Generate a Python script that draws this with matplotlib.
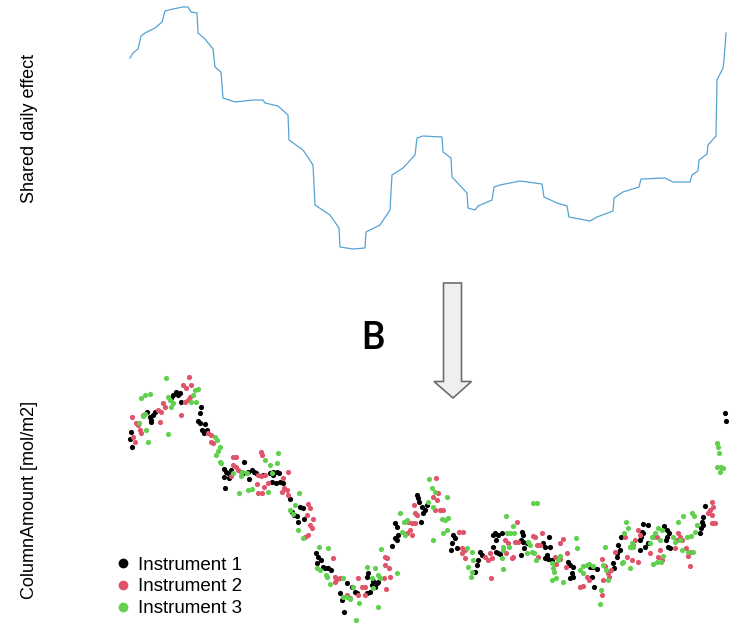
import matplotlib
matplotlib.use("Agg")
import matplotlib.pyplot as plt
from matplotlib.patches import Polygon
from matplotlib.lines import Line2D

# ---- shared daily effect (smooth term) ----
effect_day = [2, 5, 10, 13, 17, 27, 34, 37, 45, 55, 60, 63, 69, 70, 77, 85, 87, 93, 95,
              107, 125, 135, 137, 150, 160, 161, 175, 185, 187, 202, 211, 212, 225, 237,
              238, 252, 262, 264, 275, 287, 289, 295, 314, 315, 323, 324, 339, 340, 347,
              350, 364, 366, 372, 392, 414, 416, 429, 439, 441, 462, 469, 485, 486, 495,
              511, 513, 537, 545, 562, 564, 570, 571, 579, 580, 588, 589, 595, 596, 598]
effect_val = [0.70, 0.75, 0.79, 0.92, 0.95, 1.00, 1.06, 1.17, 1.19, 1.21, 1.21, 1.16, 1.15,
              0.95, 0.89, 0.79, 0.61, 0.56, 0.30, 0.26, 0.28, 0.28, 0.25, 0.22, 0.13, -0.12,
              -0.22, -0.37, -0.77, -0.87, -1.00, -1.19, -1.21, -1.20, -1.04, -0.97, -0.82,
              -0.47, -0.40, -0.27, -0.10, -0.08, -0.09, -0.24, -0.30, -0.49, -0.65, -0.80,
              -0.82, -0.78, -0.72, -0.59, -0.57, -0.53, -0.56, -0.69, -0.75, -0.78, -0.89,
              -0.93, -0.89, -0.83, -0.70, -0.64, -0.59, -0.51, -0.50, -0.54, -0.54, -0.47,
              -0.43, -0.32, -0.26, -0.17, -0.08, 0.48, 0.60, 0.68, 0.95]

# ---- ColumnAmount observations (Dobson units) per instrument ----
inst1_day = [3, 2, 4, 19, 22, 23, 25, 27, 23, 43, 45, 48, 50, 52, 53, 73, 72, 70, 72, 77, 74,
             79, 76, 96, 98, 100, 96, 101, 97, 103, 116, 115, 120, 124, 126, 128, 121, 135,
             142, 145, 149, 151, 144, 148, 152, 145, 155, 162, 164, 166, 169, 172, 175, 170,
             176, 188, 190, 193, 189, 195, 197, 200, 203, 219, 224, 212, 214, 227, 229, 216,
             240, 239, 244, 245, 249, 250, 247, 242, 239, 264, 267, 269, 270, 267, 269, 289,
             290, 291, 294, 295, 297, 299, 293, 325, 327, 324, 323, 329, 352, 354, 350, 349,
             347, 365, 365, 367, 370, 374, 368, 368, 370, 372, 394, 395, 393, 395, 399, 396,
             393, 415, 417, 421, 422, 419, 417, 420, 424, 440, 442, 445, 444, 445, 442, 462,
             465, 469, 464, 466, 485, 486, 489, 490, 597, 598, 577, 575, 574, 575, 573, 572,
             536, 539, 541, 539, 538, 540, 542, 515, 520, 514, 515, 513, 512, 520, 517, 512,
             493, 492, 489]
inst1_du = [288, 281, 273, 308, 303, 300, 305, 308, 298, 322, 325, 328, 325, 327, 318, 313,
            307, 299, 297, 296, 290, 290, 287, 251, 248, 247, 243, 242, 232, 250, 258, 247,
            248, 250, 248, 247, 241, 245, 247, 248, 248, 247, 238, 237, 238, 245, 237, 221,
            208, 205, 204, 213, 212, 198, 201, 167, 163, 160, 157, 153, 152, 152, 150, 137,
            133, 127, 120, 128, 127, 108, 147, 143, 135, 139, 137, 138, 133, 128, 127, 174,
            182, 180, 185, 197, 193, 225, 222, 218, 213, 207, 210, 215, 198, 185, 182, 177,
            170, 172, 168, 165, 160, 155, 148, 185, 173, 187, 185, 187, 180, 168, 167, 166,
            188, 185, 180, 178, 177, 172, 165, 177, 173, 183, 173, 165, 162, 161, 160, 158,
            155, 153, 147, 143, 142, 153, 153, 151, 143, 133, 157, 152, 163, 175, 307, 299,
            214, 203, 198, 195, 192, 187, 194, 190, 187, 183, 180, 173, 172, 196, 195, 188,
            187, 183, 180, 177, 173, 170, 183, 170, 167]

inst2_day = [4, 8, 10, 5, 7, 12, 13, 15, 30, 33, 32, 35, 37, 53, 55, 61, 58, 57, 60, 63, 62,
             80, 83, 83, 85, 105, 108, 105, 108, 110, 103, 113, 133, 134, 130, 133, 137, 129,
             130, 134, 136, 140, 155, 160, 154, 156, 159, 160, 180, 182, 179, 185, 182, 184,
             180, 177, 205, 207, 209, 212, 207, 219, 222, 230, 234, 237, 230, 237, 257, 259,
             257, 261, 262, 256, 258, 280, 284, 282, 279, 284, 287, 286, 287, 289, 308, 310,
             305, 309, 307, 312, 315, 331, 335, 334, 337, 334, 337, 357, 360, 363, 362, 364,
             377, 380, 378, 384, 385, 387, 389, 390, 405, 407, 409, 412, 414, 410, 432, 435,
             439, 427, 432, 428, 438, 452, 455, 459, 461, 474, 477, 480, 483, 474, 475, 481,
             487, 584, 585, 582, 580, 584, 587, 584, 550, 552, 549, 554, 558, 562, 560, 562,
             547, 532, 530, 534, 522, 525, 529, 510, 512, 507, 505, 502, 497, 499, 504, 510]
inst2_du = [303, 297, 295, 283, 278, 290, 287, 305, 310, 308, 298, 317, 313, 305, 335, 343,
            332, 318, 320, 335, 323, 287, 285, 278, 277, 263, 263, 255, 253, 250, 244, 248,
            268, 265, 245, 244, 245, 236, 227, 227, 233, 237, 242, 248, 228, 232, 230, 225,
            216, 212, 205, 201, 195, 192, 185, 183, 162, 143, 141, 142, 138, 125, 122, 142,
            133, 133, 125, 125, 163, 162, 155, 152, 143, 142, 131, 198, 197, 190, 187, 185,
            197, 215, 207, 205, 242, 227, 223, 220, 210, 210, 210, 188, 188, 172, 170, 167,
            162, 163, 160, 142, 167, 162, 180, 177, 167, 162, 163, 178, 198, 178, 184, 183,
            175, 175, 187, 163, 177, 181, 167, 163, 161, 156, 153, 133, 134, 143, 140, 161,
            154, 147, 150, 125, 140, 143, 168, 218, 213, 210, 207, 205, 197, 197, 187, 183,
            180, 180, 172, 168, 164, 154, 172, 170, 163, 160, 167, 183, 183, 190, 185, 180,
            175, 173, 183, 163, 160, 158]

inst3_day = [38, 13, 17, 22, 15, 17, 11, 18, 20, 40, 40, 42, 45, 43, 67, 70, 65, 63, 68, 87,
             89, 92, 90, 88, 92, 93, 105, 113, 111, 137, 142, 149, 150, 114, 119, 120, 124,
             140, 144, 171, 167, 162, 165, 170, 175, 191, 200, 189, 192, 198, 199, 202, 219,
             215, 222, 225, 231, 228, 215, 239, 244, 250, 252, 245, 250, 247, 253, 269, 272,
             276, 279, 274, 277, 301, 304, 307, 300, 305, 319, 314, 317, 320, 319, 315, 305,
             339, 344, 345, 340, 344, 343, 405, 409, 378, 385, 379, 382, 386, 375, 375, 381,
             374, 375, 400, 402, 399, 404, 406, 408, 424, 425, 426, 424, 428, 430, 432, 435,
             448, 449, 452, 455, 459, 461, 465, 455, 475, 478, 477, 480, 473, 472, 589, 590,
             591, 589, 593, 595, 592, 564, 566, 555, 569, 567, 550, 563, 559, 552, 554, 560,
             565, 545, 547, 534, 530, 527, 524, 522, 532, 535, 533, 529, 525, 500, 498, 496,
             504, 505, 502, 495, 494, 502]
inst3_du = [342, 322, 325, 326, 304, 306, 297, 290, 278, 286, 323, 320, 317, 313, 330, 331,
            325, 318, 318, 283, 280, 273, 269, 265, 258, 257, 247, 244, 227, 260, 255, 257,
            267, 248, 247, 230, 231, 228, 247, 227, 215, 210, 206, 190, 182, 173, 172, 152,
            150, 145, 143, 136, 123, 123, 121, 133, 117, 100, 142, 153, 142, 145, 142, 132,
            113, 152, 171, 147, 207, 198, 200, 188, 185, 241, 232, 228, 218, 213, 223, 201,
            200, 202, 190, 187, 180, 172, 168, 160, 153, 148, 143, 217, 217, 204, 194, 187,
            187, 187, 173, 170, 173, 162, 151, 178, 175, 167, 168, 167, 160, 157, 152, 148,
            140, 142, 160, 164, 138, 182, 172, 150, 154, 155, 156, 154, 147, 155, 150, 173,
            140, 130, 116, 277, 273, 267, 253, 253, 252, 248, 207, 204, 204, 195, 188, 198,
            184, 183, 180, 170, 168, 168, 183, 178, 190, 192, 187, 183, 177, 180, 164, 158,
            158, 156, 192, 198, 187, 177, 173, 173, 158, 157, 152]

labels = ["Instrument 1", "Instrument 2", "Instrument 3"]
colors = ["#000000", "#DF536B", "#61D04F"]

DU_TO_MOL = 4.4615e-4  # 1 DU = 4.4615e-4 mol/m2

W, H = 730, 623
fig = plt.figure(figsize=(W / 100, H / 100), dpi=100)
label_font = ["Liberation Sans", "DejaVu Sans"]

# ---- top panel: shared daily effect ----
ax_top = fig.add_axes([128 / W, 363 / H, 600 / W, 260 / H])
ax_top.plot(effect_day, effect_val, color="#55A3D3", lw=0.9)
ax_top.set_xlim(0, 600)
ax_top.set_ylim(-1.32, 1.28)
ax_top.set_xticks([])
ax_top.set_yticks([])
for s in ax_top.spines.values():
    s.set_visible(False)
fig.text(29 / W, 1 - 128 / H, "Shared daily effect", rotation=90, ha="center",
         va="center", fontsize=13, family=label_font)

# ---- bottom panel: observations ----
ax_bot = fig.add_axes([128 / W, 0, 600 / W, 253 / H])
series = [(inst1_day, inst1_du), (inst2_day, inst2_du), (inst3_day, inst3_du)]
for (d, v), c in zip(series, colors):
    ax_bot.scatter(d, [x * DU_TO_MOL for x in v], s=14, color=c, linewidths=0, zorder=3)
ax_bot.set_xlim(0, 600)
ax_bot.set_ylim(97 * DU_TO_MOL, 350 * DU_TO_MOL)
ax_bot.set_xticks([])
ax_bot.set_yticks([])
for s in ax_bot.spines.values():
    s.set_visible(False)
fig.text(29 / W, 1 - 500 / H, "ColumnAmount [mol/m2]", rotation=90, ha="center",
         va="center", fontsize=13, family=label_font)

handles = [Line2D([], [], ls="none", marker="o", markersize=6, color=c) for c in colors]
fig.legend(handles, labels, loc="lower left", bbox_to_anchor=(110 / W, 2 / H),
           frameon=False, prop={"family": label_font, "size": 13.5},
           handlelength=1.0, handletextpad=0.3, labelspacing=0.25, borderpad=0.2,
           borderaxespad=0)

# ---- arrow and panel letter ----
px = lambda x, y: (x / W, 1 - y / H)
arrow_pts = [px(443.5, 283), px(461.5, 283), px(461.5, 381.5), px(471.5, 381.5),
             px(453, 398), px(434, 381.5), px(443.5, 381.5)]
fig.add_artist(Polygon(arrow_pts, closed=True, transform=fig.transFigure,
                       facecolor="#EFEFEF", edgecolor="#6E6E6E", lw=1.2))
fig.text(373 / W, 1 - 339 / H, "B", ha="center", va="center", fontsize=27,
         family=["Roboto", "DejaVu Sans"], fontweight="medium")

fig.savefig("out.png", dpi=100, facecolor="white")
